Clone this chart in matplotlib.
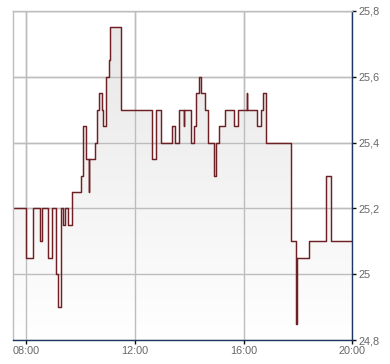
import matplotlib
matplotlib.use("Agg")
import matplotlib.pyplot as plt
import numpy as np
from matplotlib.colors import LinearSegmentedColormap

# Time in hours (step changes, 'post' steps) and prices
times = [7.52, 8.00, 8.26, 8.52, 8.59, 8.81, 8.95, 9.10, 9.18, 9.27, 9.36, 9.44,
         9.55, 9.69, 10.00, 10.07, 10.20, 10.29, 10.31, 10.52, 10.59, 10.66,
         10.79, 10.84, 10.92, 11.04, 11.08, 11.49, 12.64, 12.76, 12.95, 13.37,
         13.49, 13.63, 13.79, 13.81, 14.05, 14.18, 14.25, 14.35, 14.44, 14.58,
         14.70, 14.90, 15.00, 15.10, 15.33, 15.66, 15.80, 16.12, 16.14, 16.50,
         16.63, 16.73, 16.82, 17.76, 17.94, 17.96, 18.42, 19.04, 19.21, 20.00]
prices = [25.20, 25.05, 25.20, 25.10, 25.20, 25.05, 25.20, 25.00, 24.90, 25.20, 25.15, 25.20,
          25.15, 25.25, 25.30, 25.45, 25.35, 25.25, 25.35, 25.40, 25.50, 25.55,
          25.50, 25.45, 25.60, 25.65, 25.75, 25.50, 25.35, 25.50, 25.40, 25.45,
          25.40, 25.50, 25.45, 25.50, 25.40, 25.45, 25.55, 25.60, 25.55, 25.50,
          25.40, 25.30, 25.40, 25.45, 25.50, 25.45, 25.50, 25.55, 25.50, 25.45,
          25.50, 25.55, 25.40, 25.10, 24.85, 25.05, 25.10, 25.30, 25.10, 25.10]

x_ticks = [8, 12, 16, 20]
x_labels = ["08:00", "12:00", "16:00", "20:00"]
y_ticks = [24.8, 25.0, 25.2, 25.4, 25.6, 25.8]
y_labels = ["24,8", "25", "25,2", "25,4", "25,6", "25,8"]

x_min, x_max = 7.52, 20.0
y_min, y_max = 24.8, 25.8

fig = plt.figure(figsize=(3.9, 3.64), dpi=100)
ax = fig.add_axes([13.3 / 390, 1 - 340 / 364, (352.3 - 13.3) / 390, (340 - 11) / 364])

ax.set_xlim(x_min, x_max)
ax.set_ylim(y_min, y_max)

# grid
for xt in x_ticks:
    ax.axvline(xt, color="#bdbdbd", lw=1.0, zorder=0)
for yt in y_ticks:
    ax.axhline(yt, color="#bdbdbd", lw=1.0, zorder=0)

# gradient fill under step line
cmap = LinearSegmentedColormap.from_list("g", ["#ffffff", "#e6e6e6"])
grad = np.linspace(0, 1, 256).reshape(-1, 1)
im = ax.imshow(grad, extent=[x_min, x_max, y_min, y_max], origin="lower",
               aspect="auto", cmap=cmap, zorder=1)
poly = ax.fill_between(times, prices, y_min, step="post", color="none", lw=0)
path = poly.get_paths()[0]
im.set_clip_path(path, transform=ax.transData)
for yt in y_ticks:
    ax.axhline(yt, color="#bdbdbd", lw=1.0, zorder=1.5)
for xt in x_ticks:
    ax.axvline(xt, color="#bdbdbd", lw=1.0, zorder=1.5)

ax.step(times, prices, where="post", color="#6e2024", lw=1.05, zorder=3)

# spines
ax.spines["left"].set_color("#bdbdbd")
ax.spines["top"].set_color("#bdbdbd")
ax.spines["right"].set_color("#1c3561")
ax.spines["bottom"].set_color("#1c3561")
for s in ax.spines.values():
    s.set_linewidth(1.0)
    s.set_zorder(4)

ax.set_xticks(x_ticks)
ax.set_xticklabels(x_labels)
ax.set_yticks(y_ticks)
ax.set_yticklabels(y_labels)
ax.yaxis.tick_right()
ax.tick_params(axis="both", colors="#111111", labelcolor="#666666",
               labelsize=7.8, length=3, width=1.0, pad=1.5)
for lbl in ax.get_xticklabels() + ax.get_yticklabels():
    lbl.set_family(["Liberation Sans", "DejaVu Sans"])

fig.savefig("out.png", dpi=100)
